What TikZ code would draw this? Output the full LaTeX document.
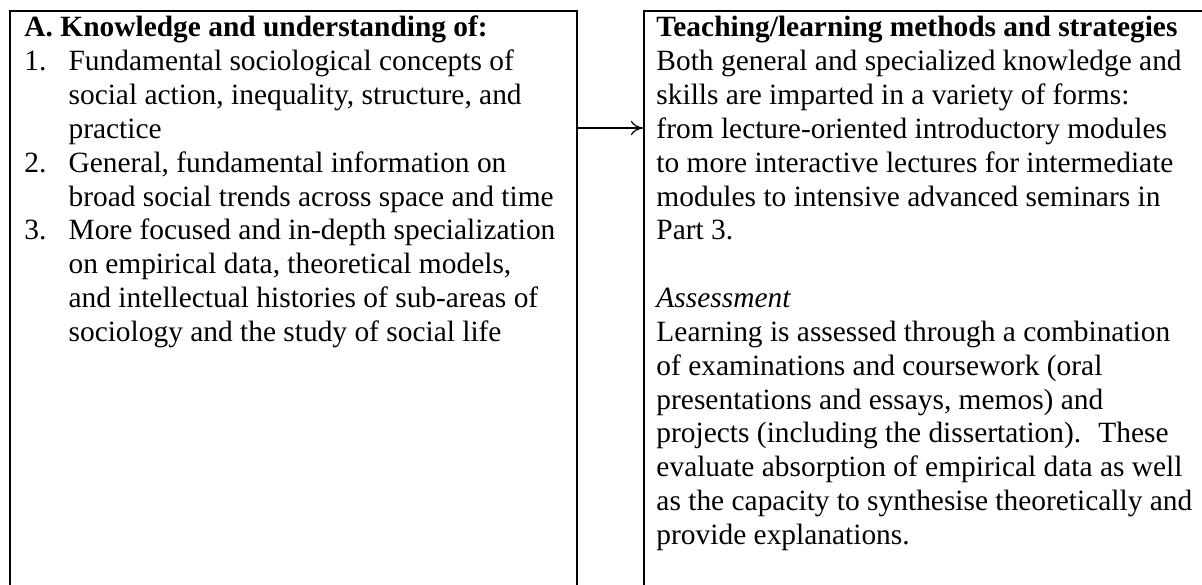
\documentclass[tikz,border=0pt]{standalone}
\usepackage{fontspec}
\setmainfont{Liberation Serif}
\usetikzlibrary{arrows.meta}

\tikzset{
    frame/.style={draw, line width=0.75pt, rectangle, inner sep=0pt, anchor=north west},
    body/.style={anchor=base west, inner sep=0pt, font=\fontsize{12pt}{13.8pt}\selectfont},
    link/.style={line width=0.5pt, -{To[length=5pt,width=6pt]}}
}

\begin{document}
\begin{tikzpicture}[x=0.408pt,y=-0.408pt]
    % Definitions:
    \useasboundingbox (0,0) rectangle (1202,585);
    \clip (0,0) rectangle (1202,585);
    \coordinate (linkrow) at (0,128);
    % Drawing:
    \node[frame, minimum width=231.3pt, minimum height=290pt] (knowbox) at (9,10) {};
    \node[frame, minimum width=290pt, minimum height=290pt] (teachbox) at (643,10) {};
    \draw[link] (knowbox.east |- linkrow) -- (teachbox.west |- linkrow);
    % Labels:
    \node[body] (knowtext) at (24,37) {\begin{tabular}[t]{@{}p{18pt}@{}l@{}}
        \multicolumn{2}{@{}l@{}}{\textbf{A. Knowledge and understanding of:}}\\
        1. & Fundamental sociological concepts of\\
           & social action, inequality, structure, and\\
           & practice\\
        2. & General, fundamental information on\\
           & broad social trends across space and time\\
        3. & More focused and in-depth specialization\\
           & on empirical data, theoretical models,\\
           & and intellectual histories of sub-areas of\\
           & sociology and the study of social life
    \end{tabular}};
    \node[body] (teachtext) at (656,37) {\begin{tabular}[t]{@{}l@{}}
        \textbf{Teaching/learning methods and strategies}\\
        Both general and specialized knowledge and\\
        skills are imparted in a variety of forms:\\
        from lecture-oriented introductory modules\\
        to more interactive lectures for intermediate\\
        modules to intensive advanced seminars in\\
        Part 3.\\
        \\
        \textit{Assessment}\\
        Learning is assessed through a combination\\
        of examinations and coursework (oral\\
        presentations and essays, memos) and\\
        projects (including the dissertation).~ These\\
        evaluate absorption of empirical data as well\\
        as the capacity to synthesise theoretically and\\
        provide explanations.
    \end{tabular}};
\end{tikzpicture}
\end{document}
